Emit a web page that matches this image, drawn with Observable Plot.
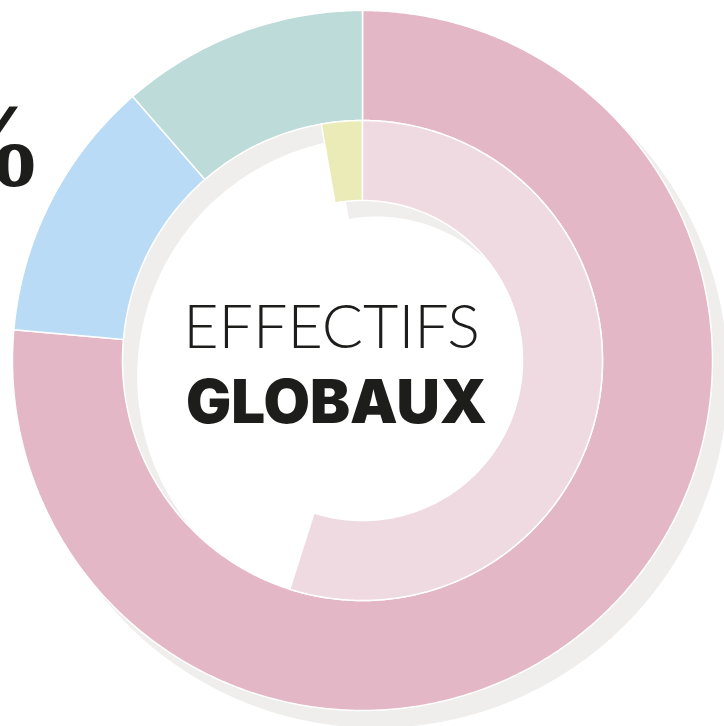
<!DOCTYPE html>
<html><head><meta charset="utf-8">
<script src="https://cdn.jsdelivr.net/npm/d3@7"></script>
<script src="https://cdn.jsdelivr.net/npm/@observablehq/plot@0.6"></script>
<style>body{margin:0;background:#fff;overflow:hidden}</style>
</head><body><div id="chart"></div>
<script>
// Outer ring (share of full circle, %), clockwise from 12 o'clock
const outerCategories = ["Rose", "Bleu", "Vert"];
const outerValues = [76.4, 12.2, 11.4];
const outerColors = ["#e4b7c7", "#b9dbf5", "#bcdbd9"];
// Inner ring (share of full circle, %), starts counter-clockwise of 12 o'clock by the yellow share
const innerCategories = ["Jaune", "Rose clair"];
const innerValues = [2.75, 54.9];
const innerColors = ["#eaebb7", "#f0dae2"];
const titleLines = ["EFFECTIFS", "GLOBAUX"];
const cornerLabel = ["%"];

// geometry (units of outer radius)
const R_OUT = 1, R_MID = 240 / 350, R_IN = 160 / 350;
const SH_DX = 14 / 350, SH_DY = -16 / 350;

function sector(a0, a1, r0, r1, key, color, ox = 0, oy = 0) {
  const pts = [];
  const n = Math.max(2, Math.ceil(Math.abs(a1 - a0) / 0.5));
  const toRad = Math.PI / 180;
  for (let i = 0; i <= n; i++) {
    const a = (a0 + (a1 - a0) * i / n) * toRad;
    pts.push({x: ox + r1 * Math.sin(a), y: oy + r1 * Math.cos(a), key, color});
  }
  for (let i = n; i >= 0; i--) {
    const a = (a0 + (a1 - a0) * i / n) * toRad;
    pts.push({x: ox + r0 * Math.sin(a), y: oy + r0 * Math.cos(a), key, color});
  }
  return pts;
}

function ring(categories, values, colors, start, r0, r1) {
  let a = start;
  const out = [];
  categories.forEach((c, i) => {
    const span = values[i] / 100 * 360;
    out.push(...sector(a, a + span, r0, r1, c, colors[i]));
    a += span;
  });
  return out;
}

const outerPts = ring(outerCategories, outerValues, outerColors, 0, R_MID, R_OUT);
const innerStart = -innerValues[0] / 100 * 360;
const innerPts = ring(innerCategories, innerValues, innerColors, innerStart, R_IN, R_MID);
const innerSpan = d3.sum(innerValues) / 100 * 360;
const shadowPts = [
  ...sector(0, 360, R_MID - 0.002, R_OUT + 0.004, "sh-out", "#efeeec", SH_DX, SH_DY),
  ...sector(innerStart, innerStart + innerSpan, R_IN, R_MID, "sh-in", "#efeeec", SH_DX, SH_DY)
];

const plot = Plot.plot({
  width: 724,
  height: 726,
  margin: 0,
  x: {domain: [-362 / 350, 362 / 350], axis: null},
  y: {domain: [-366 / 350, 360 / 350], axis: null},
  color: {type: "identity"},
  marks: [
    Plot.line(shadowPts, {x: "x", y: "y", z: "key", fill: "color", stroke: null, curve: "linear-closed"}),
    Plot.line(outerPts, {x: "x", y: "y", z: "key", fill: "color", stroke: "white", strokeWidth: 1.5, curve: "linear-closed"}),
    Plot.line(innerPts, {x: "x", y: "y", z: "key", fill: "color", stroke: "white", strokeWidth: 1.5, curve: "linear-closed"}),
    Plot.text([titleLines[0]], {text: d => d, frameAnchor: "middle", dx: -31, dy: -16, lineAnchor: "bottom",
      fontSize: 61, fontFamily: "Lato, Inter, sans-serif", fontWeight: 300, fill: "#1d1d1b"}),
    Plot.text([titleLines[1]], {text: d => d, frameAnchor: "middle", dx: -26, dy: 59, lineAnchor: "bottom",
      fontSize: 60, fontFamily: "Inter, Roboto, sans-serif", fontWeight: 900, fill: "#1d1d1b"}),
    Plot.text(cornerLabel, {text: d => d, frameAnchor: "top-left", dx: 44, dy: 184, textAnchor: "end", lineAnchor: "bottom",
      fontSize: 118, fontFamily: "Liberation Serif, serif", fontWeight: "bold", fill: "#1d1d1b"})
  ]
});
document.getElementById("chart").appendChild(plot);
</script>
</body></html>
